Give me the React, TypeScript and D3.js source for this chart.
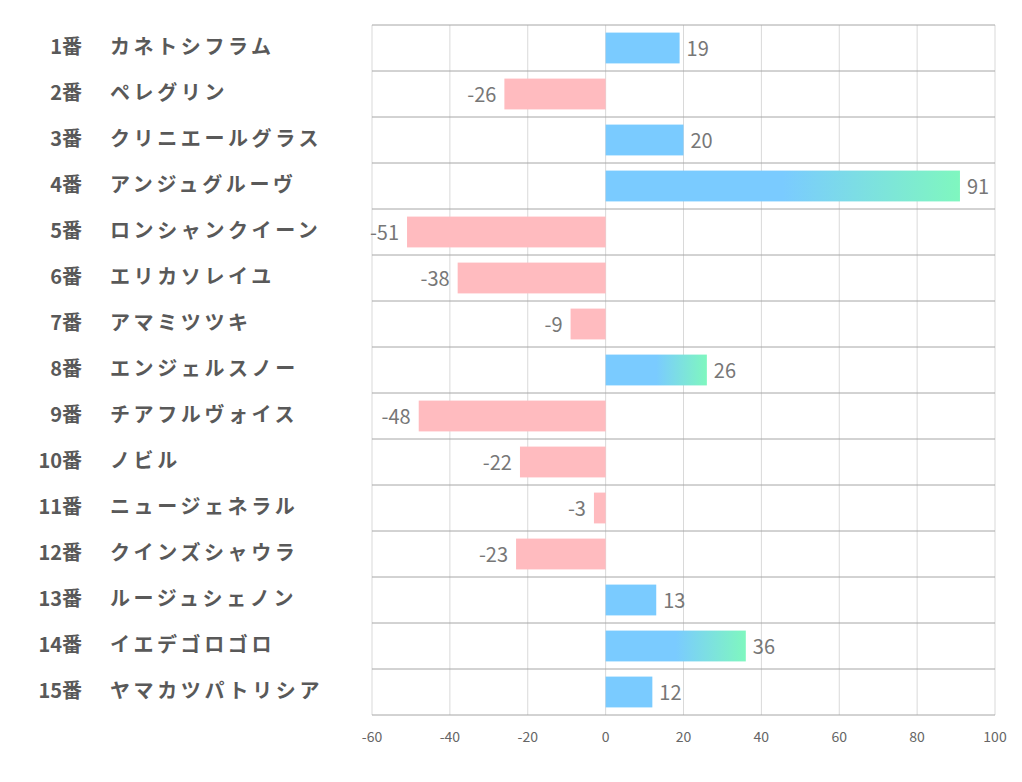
import React from "react";
import * as d3 from "d3";

const ranks = ["1番","2番","3番","4番","5番","6番","7番","8番","9番","10番","11番","12番","13番","14番","15番"];
const names = ["カネトシフラム","ペレグリン","クリニエールグラス","アンジュグルーヴ","ロンシャンクイーン","エリカソレイユ","アマミツツキ","エンジェルスノー","チアフルヴォイス","ノビル","ニュージェネラル","クインズシャウラ","ルージュシェノン","イエデゴロゴロ","ヤマカツパトリシア"];
const values = [19,-26,20,91,-51,-38,-9,26,-48,-22,-3,-23,13,36,12];
const ticks = [-60,-40,-20,0,20,40,60,80,100];

const W = 1022, H = 782;
const L = 372, R = 995, T = 25, B = 715;
const FONT = "'Noto Sans CJK JP', 'Noto Sans', sans-serif";

export default function App() {
  const x = d3.scaleLinear().domain([-60, 100]).range([L, R]);
  const y = d3.scaleBand<number>().domain(d3.range(values.length)).range([T, B]).paddingInner(0.33).paddingOuter(0.165);
  const rowH = (B - T) / values.length;
  return (
    <svg width={W} height={H} style={{ position: "absolute", left: 0, top: 0, background: "#fff" }} fontFamily={FONT}>
      <defs>
        <linearGradient id="grad" x1="0" x2="1" y1="0" y2="0">
          <stop offset="0" stopColor="#7acbff" />
          <stop offset="0.5" stopColor="#7acbff" />
          <stop offset="1" stopColor="#7ff7bf" />
        </linearGradient>
      </defs>
      {ticks.map((t) => (
        <line key={"v" + t} x1={x(t)} x2={x(t)} y1={T} y2={B} stroke="#d9d9d9" strokeWidth={1} />
      ))}
      {d3.range(values.length + 1).map((i) => (
        <line key={"h" + i} x1={L} x2={R} y1={T + i * rowH} y2={T + i * rowH} stroke="#a6a6a6" strokeWidth={1} />
      ))}
      {values.map((v, i) => {
        const x0 = x(Math.min(0, v));
        const w = Math.abs(x(v) - x(0));
        const fill = v < 0 ? "#ffbbbf" : v > 20 ? "url(#grad)" : "#7acbff";
        return <rect key={"b" + i} x={x0} y={y(i)!} width={w} height={y.bandwidth()} fill={fill} />;
      })}
      {values.map((v, i) => (
        <text
          key={"l" + i}
          x={v < 0 ? x(v) - 8 : x(v) + 7}
          y={y(i)! + y.bandwidth() / 2 + 3}
          dominantBaseline="middle"
          textAnchor={v < 0 ? "end" : "start"}
          fontSize={20}
          fill="#777777"
        >
          {v}
        </text>
      ))}
      {ranks.map((r, i) => (
        <g key={"c" + i}>
          <text x={82} y={T + i * rowH + rowH / 2 + 1} dominantBaseline="middle" textAnchor="end" fontSize={20} fontWeight="bold" fill="#595959">
            {r}
          </text>
          <text x={110} y={T + i * rowH + rowH / 2 + 1} dominantBaseline="middle" textAnchor="start" fontSize={20} fontWeight="bold" fill="#595959" letterSpacing={3.6}>
            {names[i]}
          </text>
        </g>
      ))}
      {ticks.map((t) => (
        <text key={"t" + t} x={x(t)} y={738} dominantBaseline="middle" textAnchor="middle" fontSize={14} fill="#666666">
          {t}
        </text>
      ))}
    </svg>
  );
}
